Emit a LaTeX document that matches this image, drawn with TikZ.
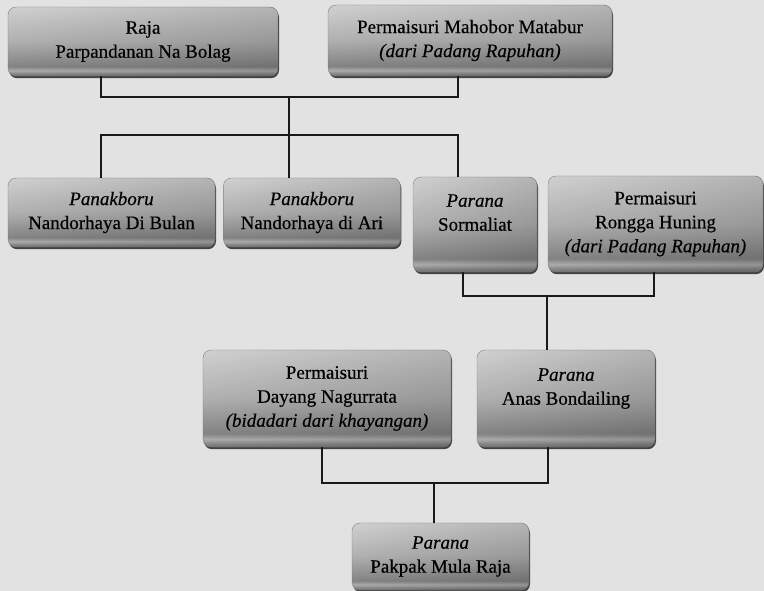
\documentclass[tikz,border=0pt]{standalone}
\usepackage{fontspec}
\setmainfont{Liberation Serif}[FakeBold=0.4]
\usepackage{xcolor}
\usepackage{tikz}
\usetikzlibrary{positioning, shadows, fadings}
\definecolor{bgcol}{RGB}{226,226,226}
\definecolor{linecol}{RGB}{25,25,25}
\definecolor{boxtop}{RGB}{232,232,232}
\definecolor{boxmid}{RGB}{196,196,196}
\definecolor{boxlow}{RGB}{146,146,146}
\definecolor{boxband}{RGB}{192,192,192}
\definecolor{boxbot}{RGB}{126,126,126}
\pgfdeclareverticalshading{kotakshade}{100bp}{
  color(0bp)=(boxbot); color(25bp)=(boxbot); color(26.5bp)=(boxlow);
  color(29bp)=(boxband); color(32bp)=(boxlow); color(50bp)=(boxmid);
  color(75bp)=(boxtop); color(100bp)=(boxtop)}
\tikzfading[name=kananfade, left color=transparent!60, middle color=transparent!100, right color=transparent!10]
\tikzset{
  line/.style={draw=linecol, line width=1.6pt},
  kotak/.style={rectangle, rounded corners=8pt, shading=kotakshade, draw=black!45, line width=0.4pt,
    align=center, font=\fontsize{19}{24}\selectfont, inner sep=3pt,
    drop shadow={shadow xshift=1pt, shadow yshift=-2.2pt, fill=black!85, opacity=0.85},
    postaction={fill=black, fill opacity=0.25, path fading=kananfade}}
}

\begin{document}
\begin{tikzpicture}[x=1pt, y=-1pt]
  \useasboundingbox (0,0) rectangle (764,591);
  \fill [bgcol] (0,0) rectangle (764,591);

  % generasi pertama
  \node [kotak, minimum width=270pt, minimum height=69pt] (raja) at (143,41.5) {Raja\\Parpandanan Na Bolag};
  \node [kotak, minimum width=284pt, minimum height=71pt] (mahobor) at (470,40.5) {Permaisuri Mahobor Matabur\\\textit{(dari Padang Rapuhan)}};

  % anak-anak
  \node [kotak, minimum width=207pt, minimum height=69pt] (bulan) at (111.5,212.5) {\textit{Panakboru}\\Nandorhaya Di Bulan};
  \node [kotak, minimum width=177pt, minimum height=69pt, right=8pt of bulan] (ari) {\textit{Panakboru}\\Nandorhaya di Ari};
  \node [kotak, minimum width=124pt, minimum height=95pt] (sormaliat) at (475,224.5) {\textit{Parana}\\Sormaliat\\\mbox{}};
  \node [kotak, minimum width=215pt, minimum height=96pt] (rongga) at (655.5,224) {Permaisuri\\Rongga Huning\\\textit{(dari Padang Rapuhan)}};

  % cucu
  \node [kotak, minimum width=248pt, minimum height=97pt] (dayang) at (327,398.5) {Permaisuri\\Dayang Nagurrata\\\textit{(bidadari dari khayangan)}};
  \node [kotak, minimum width=178pt, minimum height=97pt] (anas) at (566,398.5) {\textit{Parana}\\Anas Bondailing\\\mbox{}};

  \node [kotak, minimum width=177pt, minimum height=67pt] (pakpak) at (440.5,556.5) {\textit{Parana}\\Pakpak Mula Raja};

  % titik sambung
  \coordinate (jr) at (101,97);
  \coordinate (jc) at (289,97);
  \coordinate (jm) at (458,97);
  \coordinate (bl) at (101,135);
  \coordinate (bc) at (289,135);
  \coordinate (br) at (458,135);
  \coordinate (js) at (463,296);
  \coordinate (ja) at (547,296);
  \coordinate (jg) at (654,296);
  \coordinate (jd) at (322,483);
  \coordinate (jp) at (434,483);
  \coordinate (jn) at (548,483);

  \draw [line] (raja.south -| jr) -- (jr) -- (jm) -- (mahobor.south -| jm);
  \draw [line] (jc) -- (bc);
  \draw [line] (bulan.north -| bl) -- (bl) -- (br) -- (sormaliat.north -| br);
  \draw [line] (bc) -- (ari.north -| bc);

  \draw [line] (sormaliat.south -| js) -- (js) -- (jg) -- (rongga.south -| jg);
  \draw [line] (ja) -- (anas.north -| ja);

  \draw [line] (dayang.south -| jd) -- (jd) -- (jn) -- (anas.south -| jn);
  \draw [line] (jp) -- (pakpak.north -| jp);
\end{tikzpicture}
\end{document}
